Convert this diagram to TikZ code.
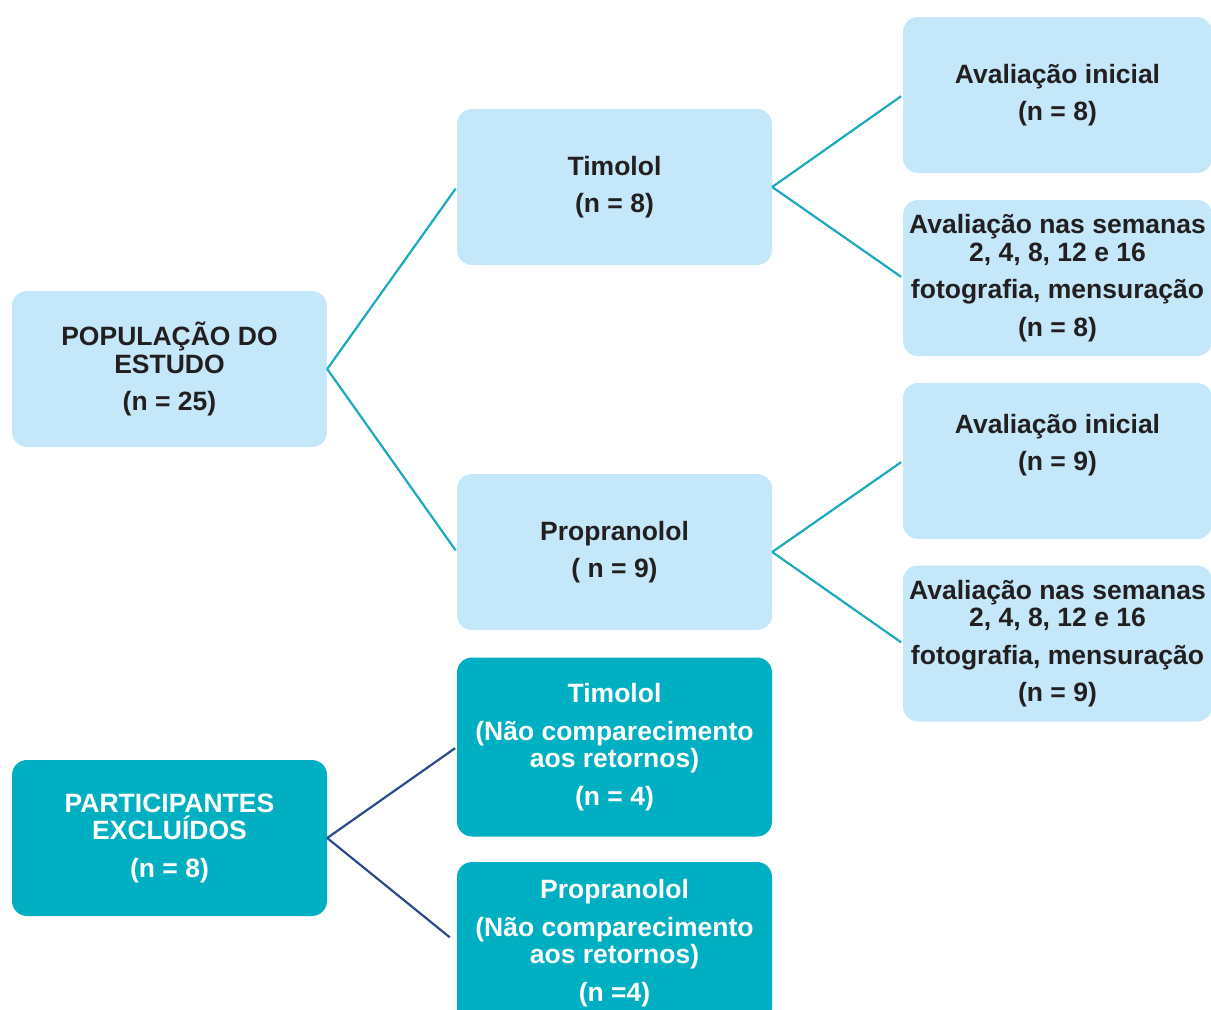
\documentclass[tikz,border=0pt]{standalone}
\usepackage{fontspec}
\setmainfont{Liberation Sans}
\definecolor{boxblue}{HTML}{C4E8F9}
\definecolor{boxteal}{HTML}{00AFC1}
\definecolor{lineteal}{HTML}{1AAABD}
\definecolor{linenavy}{HTML}{2B4B8C}
\definecolor{txtdark}{HTML}{231F20}
\tikzset{
	grp/.style = {
		shape=rectangle,
		rounded corners=15pt,
		align=center,
		inner sep=2pt,
		font=\fontsize{26.5}{27.5}\selectfont\bfseries,
		text=txtdark,
		fill=boxblue,
		minimum width=315pt,
		minimum height=156pt
	},
	evalbox/.style = {
		grp,
		minimum width=309pt
	},
	excl/.style = {
		grp,
		fill=boxteal,
		text=white
	},
	link/.style = {
		line width=2.2pt,
		color=lineteal,
		shorten >=2pt
	}
}

\begin{document}
\begin{tikzpicture}[x=1pt, y=-1pt]
		\useasboundingbox (0,0) rectangle (1211,1010);
		\clip (0,0) rectangle (1211,1010);
		% study population
		\node[grp] (pop) at (169.5,369) {
			POPULAÇÃO DO\\
			ESTUDO\\[10pt]
			(n = 25)
		};
		\node[grp] (tim) at (614.5,187) {
			Timolol\\[10pt]
			(n = 8)
		};
		\node[grp] (pro) at (614.5,552) {
			Propranolol\\[10pt]
			( n = 9)
		};
		% evaluations
		\node[evalbox] (timini) at (1057.5,95) {
			Avaliação inicial\\[10pt]
			(n = 8)
		};
		\node[evalbox] (timsem) at (1057.5,278) {
			Avaliação nas semanas\\
			2, 4, 8, 12 e 16\\[10pt]
			fotografia, mensuração\\[10pt]
			(n = 8)
		};
		\node[evalbox] (proini) at (1057.5,461) {
			Avaliação inicial\\[10pt]
			(n = 9)\\[10pt]
			~
		};
		\node[evalbox] (prosem) at (1057.5,643.5) {
			Avaliação nas semanas\\
			2, 4, 8, 12 e 16\\[10pt]
			fotografia, mensuração\\[10pt]
			(n = 9)
		};
		% excluded participants
		\node[excl] (exc) at (169.5,838) {
			PARTICIPANTES\\
			EXCLUÍDOS\\[10pt]
			(n = 8)
		};
		\node[excl, minimum height=179pt] (timexc) at (614.5,747) {
			Timolol\\[10pt]
			(Não comparecimento\\
			aos retornos)\\[10pt]
			(n = 4)
		};
		\node[excl, minimum height=162pt] (proexc) at (614.5,943) {
			Propranolol\\[10pt]
			(Não comparecimento\\
			aos retornos)\\[10pt]
			(n =4)
		};
		\draw[link] (pop.east) -- (tim.west);
		\draw[link] (pop.east) -- (pro.west);
		\draw[link] (tim.east) -- (timini.west);
		\draw[link] (tim.east) -- (timsem.west);
		\draw[link] (pro.east) -- (proini.west);
		\draw[link] (pro.east) -- (prosem.west);
		\draw[link, color=linenavy] (exc.east) -- (timexc.west);
		\draw[link, color=linenavy, shorten >=9pt] (exc.east) -- (proexc.west);
\end{tikzpicture}
\end{document}
